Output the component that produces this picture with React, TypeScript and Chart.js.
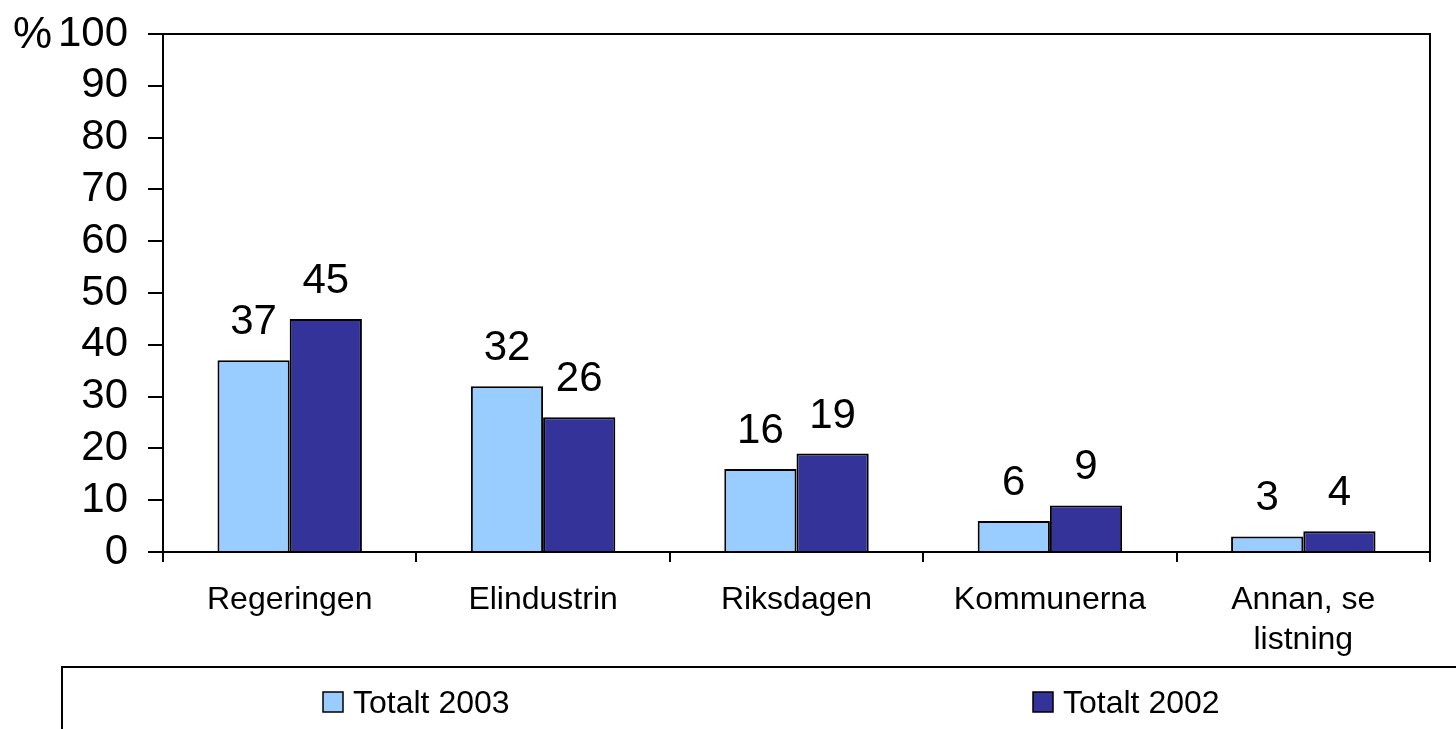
import React, { useEffect, useRef } from "react";
import { Chart, registerables } from "chart.js";

Chart.register(...registerables);

const categories: (string | string[])[] = [
  "Regeringen",
  "Elindustrin",
  "Riksdagen",
  "Kommunerna",
  ["Annan, se", "listning"],
];
const series2003: number[] = [37, 32, 16, 6, 3];
const series2002: number[] = [45, 26, 19, 9, 4];
const seriesLabels: string[] = ["Totalt 2003", "Totalt 2002"];
const yTickMin = 0;
const yTickMax = 100;
const yTickStep = 10;
const unitLabel = "%";

const FONT = "'Liberation Sans', Arial, sans-serif";
const COLORS = ["#99CCFF", "#333399"];

const decorPlugin = {
  id: "decor",
  afterDraw(chart: any) {
    const ctx = chart.ctx;
    const { left, right, top, bottom } = chart.chartArea;
    ctx.save();
    // plot border top and right
    ctx.strokeStyle = "#000";
    ctx.lineWidth = 2;
    ctx.beginPath();
    ctx.moveTo(left, top);
    ctx.lineTo(right, top);
    ctx.lineTo(right, bottom);
    ctx.stroke();

    // data labels
    ctx.fillStyle = "#000";
    ctx.font = `42px ${FONT}`;
    ctx.textAlign = "center";
    ctx.textBaseline = "alphabetic";
    chart.data.datasets.forEach((ds: any, di: number) => {
      const meta = chart.getDatasetMeta(di);
      meta.data.forEach((el: any, i: number) => {
        ctx.fillText(String(ds.data[i]), el.x, el.y - 26);
      });
    });

    // unit label
    ctx.font = `44px ${FONT}`;
    ctx.textAlign = "left";
    ctx.fillText(unitLabel, 13, 48);

    // legend box
    ctx.lineWidth = 2;
    ctx.strokeStyle = "#000";
    ctx.strokeRect(62, 667, 1420, 100);
    const itemX = [323, 1033];
    ctx.font = `32px ${FONT}`;
    chart.data.datasets.forEach((ds: any, di: number) => {
      const x = itemX[di];
      ctx.fillStyle = ds.backgroundColor;
      ctx.fillRect(x, 692, 20, 20);
      ctx.lineWidth = 1.5;
      ctx.strokeRect(x, 692, 20, 20);
      ctx.fillStyle = "#000";
      ctx.textAlign = "left";
      ctx.textBaseline = "alphabetic";
      ctx.fillText(ds.label, x + 30, 713);
    });
    ctx.restore();
  },
};

export default function App() {
  const ref = useRef<HTMLCanvasElement | null>(null);
  useEffect(() => {
    if (!ref.current) return;
    const chart = new Chart(ref.current, {
      type: "bar",
      data: {
        labels: categories as any,
        datasets: [
          {
            label: seriesLabels[0],
            data: series2003,
            backgroundColor: COLORS[0],
            borderColor: "#000",
            borderWidth: 2,
          },
          {
            label: seriesLabels[1],
            data: series2002,
            backgroundColor: COLORS[1],
            borderColor: "#000",
            borderWidth: 2,
          },
        ],
      },
      options: {
        responsive: false,
        animation: false,
        datasets: { bar: { categoryPercentage: 0.57, barPercentage: 1 } },
        layout: { padding: { top: 34, right: 26, bottom: 0, left: 0 } },
        plugins: { legend: { display: false }, tooltip: { enabled: false } },
        scales: {
          x: {
            grid: { drawOnChartArea: false, tickLength: 10, color: "#000", lineWidth: 2 },
            border: { color: "#000", width: 2 },
            ticks: {
              color: "#000",
              font: { family: FONT, size: 32, lineHeight: 1.25 },
              padding: 18,
              maxRotation: 0,
              autoSkip: false,
            },
            afterFit: (s: any) => {
              s.height = 177;
              s.paddingLeft = 0;
              s.paddingRight = 0;
            },
          },
          y: {
            min: yTickMin,
            max: yTickMax,
            grid: { drawOnChartArea: false, tickLength: 15, color: "#000", lineWidth: 2 },
            border: { color: "#000", width: 2 },
            ticks: {
              stepSize: yTickStep,
              color: "#000",
              font: { family: FONT, size: 42, lineHeight: 1 },
              padding: 20,
              autoSkip: false,
            },
            afterFit: (s: any) => {
              s.width = 163;
              s.paddingTop = 0;
              s.paddingBottom = 0;
            },
          },
        },
      },
      plugins: [decorPlugin],
    });
    return () => chart.destroy();
  }, []);
  return (
    <div style={{ position: "absolute", left: 0, top: 0, width: 1456, height: 729, background: "#fff" }}>
      <canvas ref={ref} width={1456} height={729} style={{ display: "block" }} />
    </div>
  );
}
